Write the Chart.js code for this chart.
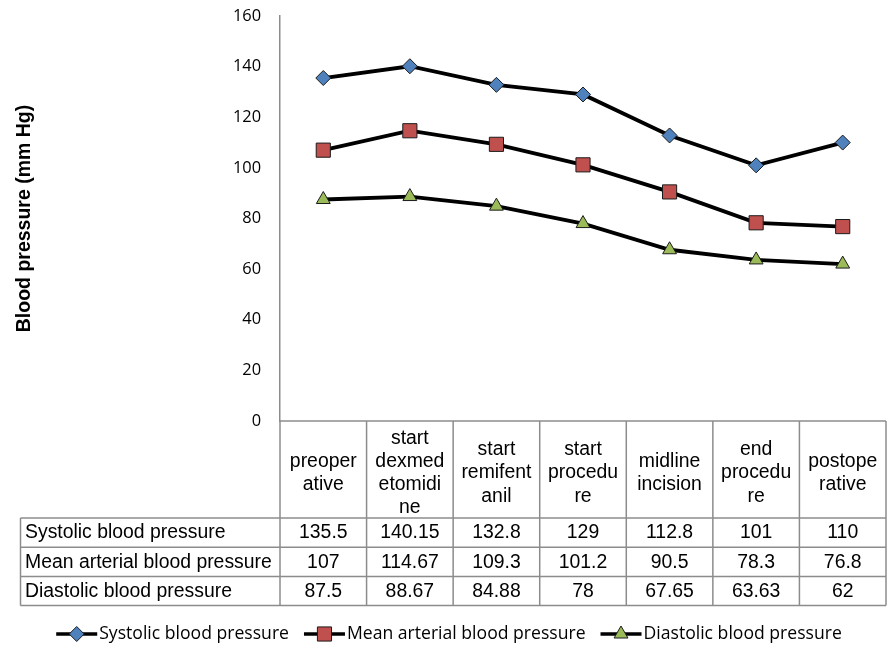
<!DOCTYPE html>
<html>
<head>
<meta charset="utf-8">
<title>Blood pressure</title>
<script src="https://cdn.jsdelivr.net/npm/chart.js@4.4.1/dist/chart.umd.min.js"></script>
<style>
  html, body { margin: 0; padding: 0; background: #fff; }
  #wrap { width: 892px; height: 646px; }
</style>
</head>
<body>
<div id="wrap"><canvas id="bp"></canvas></div>
<script>
// time points, wrapped the way the table header shows them
const categories = [
    ['preoper', 'ative'],
    ['start', 'dexmed', 'etomidi', 'ne'],
    ['start', 'remifent', 'anil'],
    ['start', 'procedu', 're'],
    ['midline', 'incision'],
    ['end', 'procedu', 're'],
    ['postope', 'rative']
];

const seriesNames = ['Systolic blood pressure', 'Mean arterial blood pressure', 'Diastolic blood pressure'];
const systolic = [135.5, 140.15, 132.8, 129, 112.8, 101, 110];
const meanArterial = [107, 114.67, 109.3, 101.2, 90.5, 78.3, 76.8];
const diastolic = [87.5, 88.67, 84.88, 78, 67.65, 63.63, 62];

const yMin = 0;
const yMax = 160;
const yStep = 20;

const TABLE_FONT = '19.4px "Liberation Sans", Arial, sans-serif';
const LEGEND_FONT = '17.6px "Open Sans", sans-serif';

const markers = [
    { style: 'rectRot', radius: 7.5, fill: '#4F81BD' },
    { style: 'rect', radius: 10, fill: '#C0504D' },
    { style: 'triangle', radius: 8, fill: '#9BBB59' }
];

/**
 * Draw one legend marker (same shapes Chart.js uses for the points)
 */
function drawMarker(ctx, m, x, y) {
    ctx.save();
    ctx.beginPath();
    if (m.style === 'rectRot') {
        ctx.moveTo(x, y - m.radius);
        ctx.lineTo(x + m.radius, y);
        ctx.lineTo(x, y + m.radius);
        ctx.lineTo(x - m.radius, y);
    } else if (m.style === 'rect') {
        const s = Math.SQRT1_2 * m.radius;
        ctx.rect(x - s, y - s, 2 * s, 2 * s);
    } else {
        const r = m.radius;
        ctx.moveTo(x, y - r);
        ctx.lineTo(x + r * Math.sin(2 * Math.PI / 3), y - r * Math.cos(2 * Math.PI / 3));
        ctx.lineTo(x + r * Math.sin(4 * Math.PI / 3), y - r * Math.cos(4 * Math.PI / 3));
    }
    ctx.closePath();
    ctx.fillStyle = m.fill;
    ctx.fill();
    ctx.lineWidth = 1;
    ctx.strokeStyle = '#1b1b1b';
    ctx.stroke();
    ctx.restore();
}

// data table under the plot + legend below it
const dataTablePlugin = {
    id: 'dataTable',
    afterDraw(chart) {
        const ctx = chart.ctx;
        const area = chart.chartArea;
        const xs = chart.scales.x;
        const n = categories.length;
        const colW = (area.right - area.left) / n;
        const tableLeft = 20.5;
        const headerBottom = area.bottom + 97;
        const rowH = 29.2;
        const rows = [systolic, meanArterial, diastolic];
        const tableBottom = headerBottom + rowH * rows.length;

        ctx.save();
        ctx.strokeStyle = '#8c8c8c';
        ctx.lineWidth = 1.5;

        // column borders
        for (let i = 0; i <= n; i++) {
            const x = area.left + i * colW;
            ctx.beginPath();
            ctx.moveTo(x, area.bottom);
            ctx.lineTo(x, tableBottom);
            ctx.stroke();
        }
        ctx.beginPath();
        ctx.moveTo(area.left, area.bottom);
        ctx.lineTo(area.right, area.bottom);
        ctx.stroke();

        // row borders
        for (let r = 0; r <= rows.length; r++) {
            const y = headerBottom + r * rowH;
            ctx.beginPath();
            ctx.moveTo(tableLeft, y);
            ctx.lineTo(area.right, y);
            ctx.stroke();
        }
        ctx.beginPath();
        ctx.moveTo(tableLeft, headerBottom);
        ctx.lineTo(tableLeft, tableBottom);
        ctx.stroke();

        // header labels
        ctx.fillStyle = '#000';
        ctx.font = TABLE_FONT;
        ctx.textAlign = 'center';
        ctx.textBaseline = 'middle';
        const lineH = 23.2;
        const headerMid = (area.bottom + headerBottom) / 2 + 3.5;
        categories.forEach((lines, i) => {
            const cx = xs.getPixelForValue(i);
            const y0 = headerMid - (lines.length - 1) * lineH / 2;
            lines.forEach((t, k) => ctx.fillText(t, cx, y0 + k * lineH));
        });

        // value rows
        rows.forEach((vals, r) => {
            const cy = headerBottom + r * rowH + rowH / 2 + 0.5;
            ctx.textAlign = 'left';
            ctx.fillText(seriesNames[r], 25, cy);
            ctx.textAlign = 'center';
            vals.forEach((v, i) => ctx.fillText(String(v), xs.getPixelForValue(i), cy));
        });

        // legend
        ctx.font = LEGEND_FONT;
        const lineLen = 41;
        const gap = 2;
        const itemGap = 15;
        const widths = seriesNames.map(s => ctx.measureText(s).width);
        const total = widths.reduce((a, w) => a + lineLen + gap + w, 0) + itemGap * (seriesNames.length - 1);
        let lx = (chart.width - total) / 2 + 3;
        const ly = 634;
        ctx.textAlign = 'left';
        seriesNames.forEach((name, i) => {
            ctx.beginPath();
            ctx.strokeStyle = '#000';
            ctx.lineWidth = 3.5;
            ctx.moveTo(lx, ly);
            ctx.lineTo(lx + lineLen, ly);
            ctx.stroke();
            drawMarker(ctx, markers[i], lx + lineLen / 2, ly);
            ctx.fillStyle = '#000';
            ctx.fillText(name, lx + lineLen + gap, ly);
            lx += lineLen + gap + widths[i] + itemGap;
        });
        ctx.restore();
    }
};

const seriesData = [systolic, meanArterial, diastolic];

new Chart(document.getElementById('bp'), {
    type: 'line',
    data: {
        labels: categories.map(c => c.join('')),
        datasets: seriesData.map((vals, i) => ({
            label: seriesNames[i],
            data: vals,
            borderColor: '#000',
            borderWidth: 3.8,
            tension: 0,
            pointStyle: markers[i].style,
            pointRadius: markers[i].radius,
            pointHoverRadius: markers[i].radius,
            pointBackgroundColor: markers[i].fill,
            pointBorderColor: '#1b1b1b',
            pointBorderWidth: 1
        }))
    },
    options: {
        responsive: true,
        maintainAspectRatio: false,
        animation: false,
        layout: {
            autoPadding: false,
            padding: { top: 16, right: 6, bottom: 225, left: 0 }
        },
        plugins: {
            legend: { display: false },
            tooltip: { enabled: false }
        },
        scales: {
            x: {
                display: false,
                offset: true
            },
            y: {
                min: yMin,
                max: yMax,
                afterFit(scale) {
                    // fixed axis column; the label padding would otherwise push the top down
                    scale.width = 280;
                    scale.paddingTop = 0;
                    scale.paddingBottom = 0;
                },
                ticks: {
                    stepSize: yStep,
                    padding: 19,
                    color: '#000',
                    font: { family: '"Open Sans", sans-serif', size: 16.4 }
                },
                grid: { display: false, drawTicks: false },
                border: { display: true, color: '#8c8c8c', width: 1.5 },
                title: {
                    display: true,
                    text: 'Blood pressure (mm Hg)',
                    color: '#000',
                    padding: { top: 13, bottom: 0 },
                    font: { family: '"Liberation Sans", Arial, sans-serif', size: 19.5, weight: 'bold' }
                }
            }
        }
    },
    plugins: [dataTablePlugin]
});
</script>
</body>
</html>
